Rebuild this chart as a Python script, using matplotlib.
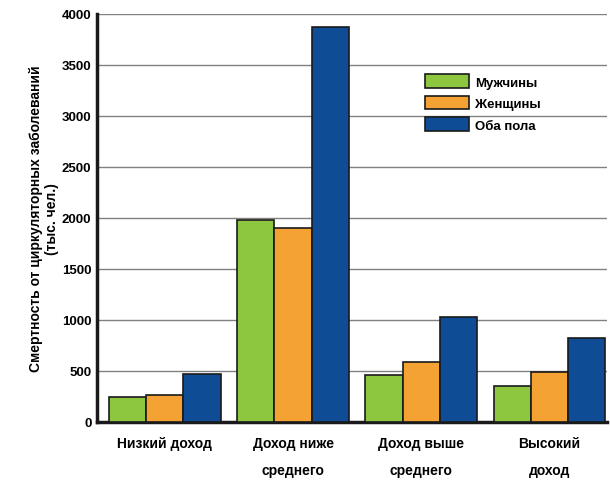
import matplotlib
matplotlib.use("Agg")
import matplotlib.pyplot as plt
import numpy as np

plt.rcParams["font.family"] = ["Liberation Sans Narrow", "Liberation Sans", "DejaVu Sans"]

categories = ["Низкий доход", "Доход ниже\nсреднего", "Доход выше\nсреднего", "Высокий\nдоход"]
series_names = ["Мужчины", "Женщины", "Оба пола"]
men = [240, 1980, 460, 350]
women = [265, 1900, 590, 490]
both = [465, 3870, 1030, 820]
yticks = [0, 500, 1000, 1500, 2000, 2500, 3000, 3500, 4000]

colors = ["#8dc63f", "#f4a234", "#0e4c96"]

fig = plt.figure(figsize=(6.1, 4.85), dpi=100)
ax = fig.add_axes([0.159, 0.128, 0.836, 0.842])

x = np.arange(len(categories))
w = 0.29
for i, (vals, c, name) in enumerate(zip([men, women, both], colors, series_names)):
    ax.bar(x + (i - 1) * w, vals, width=w, color=c, edgecolor="#1a1a1a",
           linewidth=1.2, label=name, zorder=3)

ax.set_xlim(-0.53, 3.45)
ax.set_ylim(0, 4000)
ax.set_yticks(yticks)
ax.set_yticklabels([str(v) for v in yticks], fontsize=9.5, fontweight="bold")
ax.set_xticks(x)
ax.set_xticklabels(categories, fontsize=10, fontweight="bold", linespacing=2.2)
ax.tick_params(axis="x", length=0, pad=10)
ax.tick_params(axis="y", length=0, pad=4)
ax.grid(axis="y", color="#808080", linewidth=1, zorder=0)

for s in ["top", "right"]:
    ax.spines[s].set_visible(False)
for s in ["left", "bottom"]:
    ax.spines[s].set_linewidth(2.5)
    ax.spines[s].set_color("#1a1a1a")

ax.set_ylabel("Смертность от циркуляторных заболеваний\n(тыс. чел.)",
              fontsize=10, fontweight="bold", labelpad=2)

leg = ax.legend(loc="upper left", bbox_to_anchor=(0.62, 0.88), frameon=False,
                prop={"size": 9.5, "weight": "bold"}, handlelength=3.3,
                handleheight=1.2, labelspacing=0.55, handletextpad=0.5)

fig.savefig("out.png", dpi=100, facecolor="white")
